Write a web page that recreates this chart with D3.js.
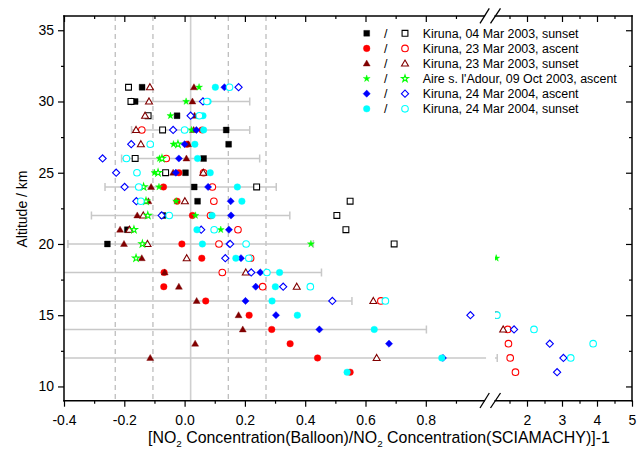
<!DOCTYPE html>
<html><head><meta charset="utf-8">
<script src="https://cdn.jsdelivr.net/npm/d3@7"></script>
<style>
body{margin:0;background:#fff}
svg{display:block}
text{font-family:"Liberation Sans",Arial,Helvetica,sans-serif;fill:#000}
</style>
</head><body>
<svg id="chart" width="637" height="454"></svg>
<script>
// ---------------- DATA ----------------
const seriesNames = [
  "Kiruna, 04 Mar 2003, sunset",
  "Kiruna, 23 Mar 2003, ascent",
  "Kiruna, 23 Mar 2003, sunset",
  "Aire s. l'Adour, 09 Oct 2003, ascent",
  "Kiruna, 24 Mar 2004, ascent",
  "Kiruna, 24 Mar 2004, sunset"
];
const seriesColors = ["#000000", "#ff0000", "#800000", "#00ff00", "#0000ff", "#00ffff"];
const seriesShapes = ["square", "circle", "triangle", "star", "diamond", "circle"];

// [altitude km, value] pairs : filled and open symbols
const kir0403Filled = [[31,-0.141],[30,-0.164],[29,-0.025],[28,0.138],[27,0.146],[26,0.063],[25,0.003],[24,0.032],[23,0.043],[22,-0.072],[21,-0.190],[20,-0.256]];
const kir0403Open   = [[31,-0.186],[30,-0.178],[29,-0.121],[28,-0.073],[26,-0.164],[25,-0.063],[24,0.239],[23,0.549],[22,0.505],[21,0.535],[20,0.695]];

const kir2303aFilled = [[28,0.058],[27,0.008],[25,-0.019],[24,-0.070],[23,-0.025],[22,0.026],[20,-0.009],[19,0.057],[18,-0.068],[17,-0.069],[16,0.070],[15,0.214],[14,0.289],[13,0.350],[12,0.441],[11,0.549]];
const kir2303aOpen   = [[28,-0.142],[26,-0.061],[25,0.063],[24,0.092],[23,0.097],[22,0.086],[21,0.177],[20,0.114],[19,0.219],[18,0.125],[17,0.259],[16,0.651],[15,1.12],[14,1.45],[13,1.47],[12,1.52],[11,1.67]];

const kir2303sFilled = [[31,0.031],[30,0.026],[29,0.033],[28,0.030],[27,0.012],[26,0.006],[25,-0.038],[24,-0.111],[23,-0.120],[22,-0.157],[21,-0.214],[20,-0.201],[19,-0.142],[18,-0.066],[17,-0.019],[16,0.040],[15,0.179],[14,0.193],[13,0.035],[12,-0.114]];
const kir2303sOpen   = [[31,-0.115],[30,-0.118],[29,-0.131],[28,-0.161],[27,-0.145],[25,0.062],[23,0.001],[22,-0.137],[21,-0.183],[20,-0.123],[19,0.007],[18,0.203],[17,0.372],[16,0.626],[14,1.32],[12,0.637]];

const aireFilled = [[31,0.048],[30,0.005],[29,-0.047],[28,0.023],[27,-0.037],[26,-0.083],[25,-0.100],[24,-0.085],[23,-0.028],[22,0.036],[21,0.120],[20,0.419],[19,1.12]];
const aireOpen   = [[27,-0.022],[26,-0.075],[25,-0.088],[24,-0.136],[23,-0.128],[22,-0.122],[21,-0.168],[20,-0.140],[19,-0.161]];

const kir2404aFilled = [[31,0.132],[28,0.039],[27,0.000],[26,-0.019],[25,-0.029],[24,0.078],[23,0.153],[22,0.154],[21,0.147],[20,0.148],[19,0.187],[18,0.251],[17,0.236],[16,0.202],[15,0.303],[14,0.447],[13,0.678],[12,0.857]];
const kir2404aOpen   = [[31,0.179],[30,0.061],[29,0.020],[28,-0.038],[27,-0.177],[26,-0.272],[25,-0.227],[24,-0.199],[23,-0.160],[22,-0.076],[21,0.055],[20,0.151],[19,0.135],[18,0.221],[17,0.327],[16,0.490],[15,0.948],[14,1.63],[13,2.65],[12,3.04],[11,2.86]];

const kir2404sFilled = [[31,0.102],[30,0.078],[29,0.061],[28,0.063],[27,0.034],[26,0.043],[25,0.085],[24,0.175],[23,0.190],[22,0.091],[21,0.041],[20,0.059],[19,0.170],[18,0.315],[17,0.301],[16,0.290],[15,0.374],[14,0.629],[12,0.853],[11,0.539]];
const kir2404sOpen   = [[31,0.149],[30,0.074],[29,0.049],[28,0.000],[27,-0.114],[26,-0.193],[25,-0.158],[24,-0.152],[23,-0.145],[22,-0.051],[21,0.098],[20,0.204],[19,0.213],[18,0.273],[17,0.417],[16,0.666],[15,1.14],[14,2.2],[13,3.89],[12,3.25]];

// uncertainty bars (centred on mean line)
const errAltitudes = [30, 28, 26, 24, 22, 20, 18, 16, 14, 12];
const errHalfWidth = [0.196, 0.196, 0.229, 0.284, 0.329, 0.407, 0.434, 0.535, 0.782, 1.13];
const meanLine = 0.02;
const dashedLines = [-0.23, -0.105, 0.145, 0.27];

// ticks
const xMajorA = [-0.4, -0.2, 0, 0.2, 0.4, 0.6, 0.8];
const xMinorA = [-0.3, -0.1, 0.1, 0.3, 0.5, 0.7, 0.9];
const xMajorB = [2, 3, 4, 5];
const xMinorB = [1.5, 2.5, 3.5, 4.5];
const yMajor = [10, 15, 20, 25, 30, 35];
const yMinor = [12.5, 17.5, 22.5, 27.5, 32.5];

const filledSets = [kir0403Filled, kir2303aFilled, kir2303sFilled, aireFilled, kir2404aFilled, kir2404sFilled];
const openSets   = [kir0403Open, kir2303aOpen, kir2303sOpen, aireOpen, kir2404aOpen, kir2404sOpen];

// ---------------- LAYOUT ----------------
const W = 637, H = 454;
const L = 64, R = 632, T = 16, B = 400.7;
const gapL = 486.5, gapR = 495;

const xA = d3.scaleLinear().domain([-0.4, 1.0]).range([L, 486.1]);
const xB = d3.scaleLinear().domain([1.0, 5]).range([492, R]);
const X = v => v <= 1.0 ? xA(v) : xB(v);
const y = d3.scaleLinear().domain([9, 36]).range([B, T]);

const svg = d3.select("#chart");
svg.append("rect").attr("width", W).attr("height", H).attr("fill", "#fff");

svg.append("defs").append("clipPath").attr("id", "plotclip")
  .append("rect").attr("x", L).attr("y", T).attr("width", R - L).attr("height", B - T);

const plot = svg.append("g").attr("clip-path", "url(#plotclip)");

// reference lines
plot.append("line").attr("x1", xA(meanLine)).attr("x2", xA(meanLine)).attr("y1", T).attr("y2", B)
  .attr("stroke", "#cfcfcf").attr("stroke-width", 1.6);
plot.selectAll("line.dash").data(dashedLines).join("line").attr("class", "dash")
  .attr("x1", d => xA(d)).attr("x2", d => xA(d)).attr("y1", T).attr("y2", B)
  .attr("stroke", "#bdbdbd").attr("stroke-width", 1.3).attr("stroke-dasharray", "5,4");

// error bars
const errData = errAltitudes.map((a, i) => ({a, lo: meanLine - errHalfWidth[i], hi: meanLine + errHalfWidth[i]}));
const eb = plot.append("g").attr("stroke", "#c8c8c8").attr("stroke-width", 1.5).attr("fill", "none");
errData.forEach(e => {
  const yy = y(e.a);
  if (e.hi <= 1.0) {
    eb.append("line").attr("x1", X(e.lo)).attr("x2", X(e.hi)).attr("y1", yy).attr("y2", yy);
  } else {
    eb.append("line").attr("x1", X(e.lo)).attr("x2", xA(1.0)).attr("y1", yy).attr("y2", yy);
    eb.append("line").attr("x1", xB(1.0)).attr("x2", X(e.hi)).attr("y1", yy).attr("y2", yy);
  }
  [e.lo, e.hi].forEach(v => eb.append("line").attr("x1", X(v)).attr("x2", X(v)).attr("y1", yy - 4).attr("y2", yy + 4));
});

// symbols
function symPath(shape) {
  switch (shape) {
    case "square": return d3.symbol(d3.symbolSquare, 34)();
    case "circle": return d3.symbol(d3.symbolCircle, 34)();
    case "triangle": return d3.symbol(d3.symbolTriangle, 21)();
    case "star": return d3.symbol(d3.symbolStar, 15)();
    case "diamond": return d3.symbol(d3.symbolSquare, 26)();
  }
}
function symTransform(shape, px, py) {
  let t = `translate(${px},${py})`;
  if (shape === "diamond") t += " rotate(45)";
  if (shape === "triangle") t += " translate(0,0.5)";
  return t;
}

seriesNames.forEach((name, i) => {
  const col = seriesColors[i], shape = seriesShapes[i];
  plot.append("g").selectAll("path").data(filledSets[i]).join("path")
    .attr("d", symPath(shape))
    .attr("transform", d => symTransform(shape, X(d[1]), y(d[0])))
    .attr("fill", col).attr("stroke", col).attr("stroke-width", 0.4);
  plot.append("g").selectAll("path").data(openSets[i]).join("path")
    .attr("d", symPath(shape))
    .attr("transform", d => symTransform(shape, X(d[1]), y(d[0])))
    .attr("fill", "#fff").attr("stroke", col).attr("stroke-width", 1.1);
});

// axis break gap
svg.append("rect").attr("x", gapL).attr("y", T + 0.8).attr("width", gapR - gapL).attr("height", B - T - 1.6).attr("fill", "#fff");

// ---------------- AXES ----------------
const fmt = d => d.toFixed(1);
function styleAxis(g) {
  g.select(".domain").remove();
  g.selectAll(".tick line").attr("stroke", "#000").attr("stroke-width", 1.2);
  g.selectAll(".tick text").style("font-size", "14px").style("font-family", '"Liberation Sans",Arial,sans-serif');
}
// bottom
svg.append("g").attr("transform", `translate(0,${B})`)
  .call(d3.axisBottom(xA).tickValues(xMajorA).tickSize(6).tickPadding(8).tickFormat(fmt)).call(styleAxis);
svg.append("g").attr("transform", `translate(0,${B})`)
  .call(d3.axisBottom(xA).tickValues(xMinorA).tickSize(3).tickFormat("")).call(styleAxis);
svg.append("g").attr("transform", `translate(0,${B})`)
  .call(d3.axisBottom(xB).tickValues(xMajorB).tickSize(6).tickPadding(8).tickFormat(d3.format("d"))).call(styleAxis);
svg.append("g").attr("transform", `translate(0,${B})`)
  .call(d3.axisBottom(xB).tickValues(xMinorB).tickSize(3).tickFormat("")).call(styleAxis);
// top (inward)
svg.append("g").attr("transform", `translate(0,${T})`)
  .call(d3.axisTop(xA).tickValues(xMajorA).tickSize(-6).tickFormat("")).call(styleAxis);
svg.append("g").attr("transform", `translate(0,${T})`)
  .call(d3.axisTop(xA).tickValues(xMinorA).tickSize(-3).tickFormat("")).call(styleAxis);
svg.append("g").attr("transform", `translate(0,${T})`)
  .call(d3.axisTop(xB).tickValues(xMajorB.filter(v => v < 5)).tickSize(-6).tickFormat("")).call(styleAxis);
svg.append("g").attr("transform", `translate(0,${T})`)
  .call(d3.axisTop(xB).tickValues(xMinorB).tickSize(-3).tickFormat("")).call(styleAxis);
// left
svg.append("g").attr("transform", `translate(${L},0)`)
  .call(d3.axisLeft(y).tickValues(yMajor).tickSize(6).tickPadding(4).tickFormat(d3.format("d"))).call(styleAxis);
svg.append("g").attr("transform", `translate(${L},0)`)
  .call(d3.axisLeft(y).tickValues(yMinor).tickSize(3).tickFormat("")).call(styleAxis);
// right (inward)
svg.append("g").attr("transform", `translate(${R},0)`)
  .call(d3.axisRight(y).tickValues(yMajor).tickSize(-6).tickFormat("")).call(styleAxis);
svg.append("g").attr("transform", `translate(${R},0)`)
  .call(d3.axisRight(y).tickValues(yMinor).tickSize(-3).tickFormat("")).call(styleAxis);

// frame with break gap
const frame = svg.append("g").attr("stroke", "#000").attr("stroke-width", 1.5).attr("fill", "none").attr("stroke-linecap", "square");
frame.append("line").attr("x1", L).attr("x2", L).attr("y1", T).attr("y2", B);
frame.append("line").attr("x1", R).attr("x2", R).attr("y1", T).attr("y2", B);
[T, B].forEach(yy => {
  frame.append("line").attr("x1", L).attr("x2", 484.3).attr("y1", yy).attr("y2", yy);
  frame.append("line").attr("x1", 495.2).attr("x2", R).attr("y1", yy).attr("y2", yy);
});
// break marks
const bm = svg.append("g").attr("stroke", "#000").attr("stroke-width", 1.3);
[T, B].forEach(yy => {
  bm.append("line").attr("x1", 480).attr("y1", yy + 7.3).attr("x2", 489.3).attr("y2", yy - 7.7);
  bm.append("line").attr("x1", 490.5).attr("y1", yy + 7.3).attr("x2", 500.5).attr("y2", yy - 7.7);
});

// axis titles
svg.append("text").attr("transform", "translate(27,209) rotate(-90)")
  .attr("text-anchor", "middle").style("font-size", "14px").text("Altitude / km");

const xTitle = svg.append("text").attr("x", 148).attr("y", 443).style("font-size", "14px");
xTitle.append("tspan").text("[NO");
xTitle.append("tspan").attr("class", "sub").attr("dy", 4).text("2");
xTitle.append("tspan").attr("dy", -4).text(" Concentration(Balloon)/NO");
xTitle.append("tspan").attr("class", "sub").attr("dy", 4).text("2");
xTitle.append("tspan").attr("dy", -4).text(" Concentration(SCIAMACHY)]-1");
{
  const len = xTitle.node().getComputedTextLength();
  const fs = 14 * 469 / len;
  xTitle.style("font-size", fs + "px");
  xTitle.selectAll("tspan.sub").style("font-size", (fs * 0.62) + "px");
}

// ---------------- LEGEND ----------------
const legY0 = 33.3, legDY = 15.1;
const leg = svg.append("g");
seriesNames.forEach((name, i) => {
  const yy = legY0 + i * legDY;
  const col = seriesColors[i], shape = seriesShapes[i];
  leg.append("path").attr("d", symPath(shape)).attr("transform", symTransform(shape, 366.7, yy))
    .attr("fill", col).attr("stroke", col).attr("stroke-width", 0.4);
  leg.append("text").attr("x", 385.7).attr("y", yy + 4.3).attr("text-anchor", "middle").attr("class", "lt").text("/");
  leg.append("path").attr("d", symPath(shape)).attr("transform", symTransform(shape, 405, yy))
    .attr("fill", "#fff").attr("stroke", col).attr("stroke-width", 1.1);
  leg.append("text").attr("x", 422.7).attr("y", yy + 4.3).attr("class", "lt lab").text(name);
});
{
  leg.selectAll("text.lt").style("font-size", "12px");
  const len = leg.select("text.lab").node().getComputedTextLength();
  const fs = 12 * 156 / len;
  leg.selectAll("text.lt").style("font-size", fs + "px");
}
</script>
</body></html>
